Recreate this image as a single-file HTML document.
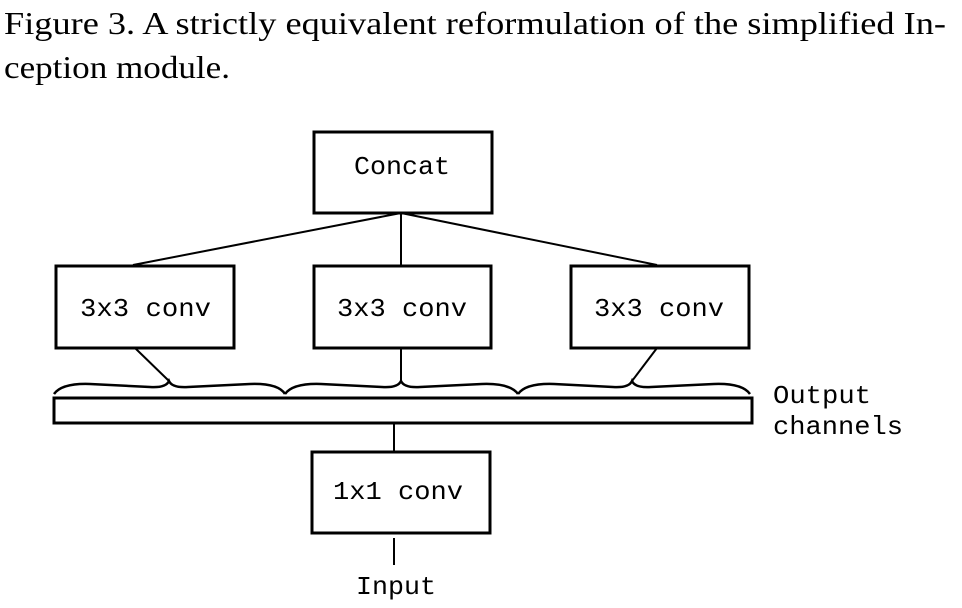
<!DOCTYPE html>
<html><head><style>body{margin:0;background:#fff}svg{display:block}</style></head><body>
<svg width="962" height="608" viewBox="0 0 962 608" xmlns="http://www.w3.org/2000/svg">
<g font-family="Liberation Serif, serif" font-size="32" fill="#000">
<text x="4" y="34" textLength="942" lengthAdjust="spacingAndGlyphs">Figure 3. A strictly equivalent reformulation of the simplified In-</text>
<text x="4" y="78" textLength="226" lengthAdjust="spacingAndGlyphs">ception module.</text>
</g>
<g fill="none" stroke="#000" stroke-width="3">
<rect x="314" y="132" width="178" height="81"/>
<rect x="56" y="266" width="178" height="82"/>
<rect x="314" y="266" width="177" height="82"/>
<rect x="571" y="266" width="178" height="82"/>
<rect x="54" y="398" width="698" height="25"/>
<rect x="312" y="452" width="178" height="81"/>
</g>
<g fill="none" stroke="#000" stroke-width="2">
<line x1="401" y1="213" x2="133" y2="265"/>
<line x1="401" y1="213" x2="401" y2="265"/>
<line x1="401" y1="213" x2="657" y2="265"/>
<line x1="135" y1="348" x2="169" y2="381"/>
<line x1="401" y1="348" x2="401" y2="381"/>
<line x1="657" y1="348" x2="632" y2="381"/>
<line x1="394" y1="423" x2="394" y2="451"/>
<line x1="394" y1="538" x2="394" y2="565"/>
</g>
<g fill="none" stroke="#000" stroke-width="2.5">
<path d="M54 394 Q62 383 90 384 L150 387 Q166 388 169 381 Q172 388 188 387 L250 384 Q278 383 285 394"/>
<path d="M285 394 Q293 383 321 384 L382 387 Q398 388 401 381 Q404 388 420 387 L482 384 Q510 383 518 394"/>
<path d="M518 394 Q526 383 554 384 L613 387 Q629 388 632 381 Q635 388 651 387 L714 384 Q742 383 750 394"/>
</g>
<g font-family="Liberation Mono, monospace" font-size="26" fill="#000">
<text x="354" y="174" textLength="96" lengthAdjust="spacingAndGlyphs">Concat</text>
<text x="80" y="316" textLength="131" lengthAdjust="spacingAndGlyphs">3x3 conv</text>
<text x="337" y="316" textLength="130" lengthAdjust="spacingAndGlyphs">3x3 conv</text>
<text x="594" y="316" textLength="130" lengthAdjust="spacingAndGlyphs">3x3 conv</text>
<text x="333" y="499" textLength="130" lengthAdjust="spacingAndGlyphs">1x1 conv</text>
<text x="356" y="594" textLength="80" lengthAdjust="spacingAndGlyphs">Input</text>
<text x="773" y="403" textLength="98" lengthAdjust="spacingAndGlyphs">Output</text>
<text x="773" y="434" textLength="130" lengthAdjust="spacingAndGlyphs">channels</text>
</g>
</svg>
</body></html>
